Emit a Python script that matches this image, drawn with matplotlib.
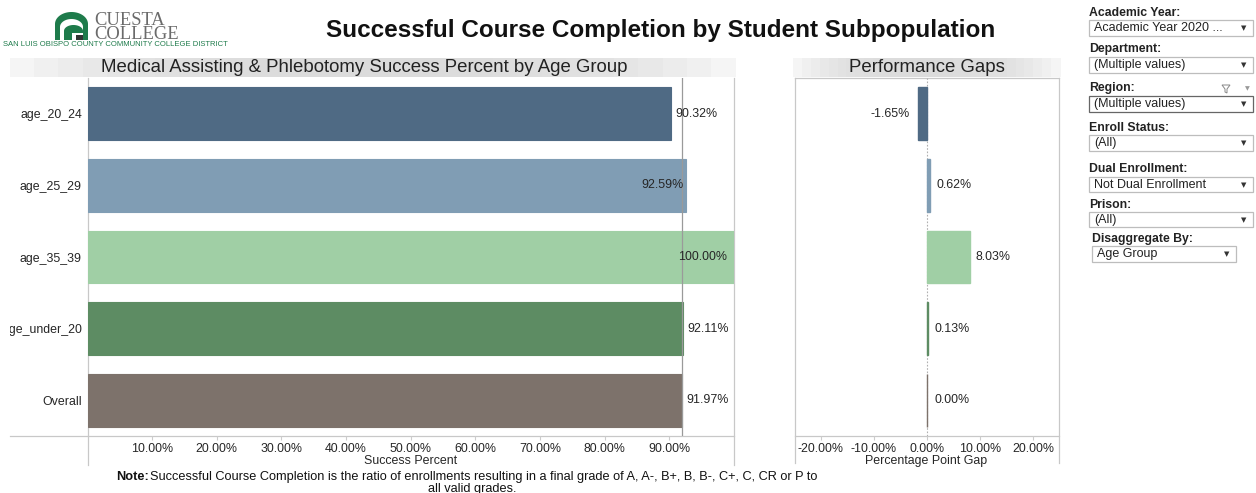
import matplotlib
matplotlib.use("Agg")
import matplotlib.pyplot as plt
from matplotlib.patches import Rectangle, Polygon
from matplotlib.transforms import Bbox, TransformedBbox
import numpy as np

# ---------------- data ----------------
categories = ["age_20_24", "age_25_29", "age_35_39", "age_under_20", "Overall"]
success_pct = [90.32, 92.59, 100.00, 92.11, 91.97]
gap_pct = [-1.65, 0.62, 8.03, 0.13, 0.00]
success_ticks = [10, 20, 30, 40, 50, 60, 70, 80, 90]
gap_ticks = [-20, -10, 0, 10, 20]
overall_ref = 91.97

title = "Successful Course Completion by Student Subpopulation"
left_title = "Medical Assisting & Phlebotomy Success Percent by Age Group"
right_title = "Performance Gaps"
note_text = ("Successful Course Completion is the ratio of enrollments resulting in a final grade of "
             "A, A-, B+, B, B-, C+, C, CR or P to")
note_line2 = "all valid grades."
filter_labels = ["Academic Year:", "Department:", "Region:", "Enroll Status:",
                 "Dual Enrollment:", "Prison:", "Disaggregate By:"]
filter_values = ["Academic Year 2020 ...", "(Multiple values)", "(Multiple values)", "(All)",
                 "Not Dual Enrollment", "(All)", "Age Group"]

# ---------------- style ----------------
colors = ["#4f6a84", "#809db4", "#a0cfa5", "#5d8c63", "#7d726b"]
label_side = ["out", "in", "in", "out", "out"]
FONT = "Liberation Sans"
plt.rcParams["font.family"] = [FONT, "DejaVu Sans"]
TXT = "#262626"
FS = 8.9

W, H = 1256, 493
fig = plt.figure(figsize=(W / 100, H / 100), dpi=100)
fig.patch.set_facecolor("white")


def rect(x0, y0, x1, y1):
    return [x0 / W, 1 - y1 / H, (x1 - x0) / W, (y1 - y0) / H]


# overlay axes in pixel coordinates
ov = fig.add_axes([0, 0, 1, 1], zorder=0)
ov.set_xlim(0, W)
ov.set_ylim(H, 0)
ov.axis("off")

# ---------- left panel ----------
L0, L1, T, B = 87.5, 734, 78, 436
axL = fig.add_axes(rect(L0, T, L1, B), zorder=2)
axL.patch.set_alpha(0)
y = np.arange(len(categories))
axL.barh(y, success_pct, height=0.74, color=colors, edgecolor=colors, linewidth=0.8)
axL.set_xlim(0, 100)
axL.set_ylim(len(categories) - 0.5, -0.5)
axL.set_yticks(y)
axL.set_yticklabels(categories, fontsize=FS, color=TXT)
axL.tick_params(axis="y", length=0, pad=4)
clipbb = TransformedBbox(Bbox([[10 / W, 0], [1, 1]]), fig.transFigure)
for lbl in axL.get_yticklabels():
    lbl.set_clip_on(True)
    lbl.set_clip_box(clipbb)
axL.set_xticks(success_ticks)
axL.set_xticklabels([f"{t:.2f}%" for t in success_ticks], fontsize=FS, color=TXT)
axL.tick_params(axis="x", length=3, color="#cccccc", pad=2)
for s in axL.spines.values():
    s.set_visible(False)
axL.axvline(overall_ref, color="#9a9a9a", lw=0.9, zorder=3)
axL.set_xlabel("Success Percent", fontsize=FS, color=TXT, labelpad=0)
for i, (v, side) in enumerate(zip(success_pct, label_side)):
    if side == "out":
        axL.annotate(f"{v:.2f}%", (v, i), xytext=(4, 0), textcoords="offset pixels",
                     ha="left", va="center", fontsize=FS, color=TXT, zorder=5)
    else:
        axL.annotate(f"{v:.2f}%", (v, i), xytext=(-2 if v < 99 else -7, 0), textcoords="offset pixels",
                     ha="right", va="center", fontsize=FS, color=TXT, zorder=5)

# ---------- right panel ----------
R0, R1 = 795, 1058
axR = fig.add_axes(rect(R0, T, R1, B), zorder=2)
axR.patch.set_alpha(0)
axR.barh(y, gap_pct, height=0.74, color=colors, edgecolor=colors, linewidth=1.0, zorder=3)
axR.set_xlim(-24.9, 24.7)
axR.set_ylim(len(categories) - 0.5, -0.5)
axR.set_yticks([])
axR.set_xticks(gap_ticks)
axR.set_xticklabels([f"{t:.2f}%" for t in gap_ticks], fontsize=FS, color=TXT)
axR.tick_params(axis="x", length=3, color="#cccccc", pad=2)
for s in axR.spines.values():
    s.set_visible(False)
axR.axvline(0, color="#b0b0b0", lw=0.8, ls=(0, (1.5, 1.5)), zorder=2)
axR.set_xlabel("Percentage Point Gap", fontsize=FS, color=TXT, labelpad=0)
for i, v in enumerate(gap_pct):
    if v < 0:
        axR.annotate(f"{v:.2f}%", (v, i), xytext=(-9, 0), textcoords="offset pixels",
                     ha="right", va="center", fontsize=FS, color=TXT)
    else:
        axR.annotate(f"{v:.2f}%", (max(v, 0.3), i), xytext=(6, 0), textcoords="offset pixels",
                     ha="left", va="center", fontsize=FS, color=TXT)

# ---------- frame lines ----------
lc = "#c8c8c8"
ov.plot([88, 88], [78, 465], color=lc, lw=0.9)
ov.plot([734, 734], [78, 465], color=lc, lw=0.9)
ov.plot([10, 734], [436, 436], color=lc, lw=0.9)
ov.plot([795, 795], [78, 463], color=lc, lw=0.9)
ov.plot([1059, 1059], [78, 463], color=lc, lw=0.9)
ov.plot([795, 1059], [78, 78], color=lc, lw=0.9)
ov.plot([795, 1059], [436, 436], color=lc, lw=0.9)

# ---------- headers ----------
for x0, x1 in [(10, 735), (793, 1060)]:
    n = 30
    for k in range(n):
        t = k / (n - 1)
        g = 0.86 + 0.10 * abs(2 * t - 1) ** 3
        ov.add_patch(Rectangle((x0 + (x1 - x0) * k / n, 58), (x1 - x0) / n + 0.6, 19,
                               facecolor=(g, g, g), edgecolor="none"))
ov.text(364, 67.5, left_title, ha="center", va="center", fontsize=13.4, color="#222222")
ov.text(927, 67.5, right_title, ha="center", va="center", fontsize=13.4, color="#222222")

# ---------- title ----------
ov.text(661, 30, title, ha="center", va="center", fontsize=17.5, fontweight="bold", color="#111111")

# ---------- logo ----------
green = "#1e7b4b"
theta = np.linspace(0, np.pi, 40)
arch = [(55, 40), (55, 24)] + [(71.5 - 16.5 * np.cos(a), 24 - 12 * np.sin(a)) for a in theta] + [(88, 24), (88, 40)]
ov.add_patch(Polygon(arch, closed=True, facecolor=green, edgecolor="none"))
inner = [(60, 40), (60, 27)] + [(71.5 - 11.5 * np.cos(a), 27 - 8 * np.sin(a)) for a in theta] + [(83, 27), (83, 40)]
ov.add_patch(Polygon(inner, closed=True, facecolor="white", edgecolor="none"))
inner2 = [(64, 40), (64, 31)] + [(73.5 - 9.5 * np.cos(a), 31 - 6 * np.sin(a)) for a in theta] + [(83, 31), (83, 40)]
ov.add_patch(Polygon(inner2, closed=True, facecolor=green, edgecolor="none"))
ov.add_patch(Rectangle((72, 33), 11, 7, facecolor="white", edgecolor="none"))
ov.add_patch(Rectangle((76, 35), 7, 5, facecolor="#333333", edgecolor="none"))
ov.text(94, 27.5, "CUESTA\nCOLLEGE", ha="left", va="center", fontsize=13.3, color="#6b6b6b",
        linespacing=0.82, family=["Liberation Serif", "DejaVu Serif"])
ov.text(228, 44.5, "SAN LUIS OBISPO COUNTY COMMUNITY COLLEGE DISTRICT", ha="right", va="center",
        fontsize=5.5, color=green)

# ---------- note ----------
ov.text(116, 477, "Note:", ha="left", va="center", fontsize=9.2, fontweight="bold", color="#111111")
ov.text(150, 477, note_text, ha="left", va="center", fontsize=9.2, color="#111111")
ov.text(472, 489, note_line2, ha="center", va="center", fontsize=9.2, color="#111111")

# ---------- filters ----------
label_y = [13, 49, 88, 128, 169, 205, 239]
box_y = [(20, 36), (57, 73), (96, 112), (135, 151), (177, 192), (212, 227), (246, 262)]
for i, (lab, val) in enumerate(zip(filter_labels, filter_values)):
    x0 = 1092 if i == len(filter_labels) - 1 else 1089
    x1 = 1236 if i == len(filter_labels) - 1 else 1253
    ov.text(x0, label_y[i], lab, ha="left", va="center", fontsize=8.8, fontweight="bold", color="#222222")
    b0, b1 = box_y[i]
    ec = "#666666" if i == 2 else "#bdbdbd"
    ov.add_patch(Rectangle((x0, b0), x1 - x0, b1 - b0, facecolor="white", edgecolor=ec, lw=0.9))
    ov.text(x0 + 5, (b0 + b1) / 2, val, ha="left", va="center", fontsize=9.0, color="#222222")
    ov.text(x1 - 9, (b0 + b1) / 2 + 0.5, "\u25BC", ha="center", va="center", fontsize=5,
            color="#333333", family=["DejaVu Sans"])
# region filter icon
ov.add_patch(Polygon([(1222, 85), (1230, 85), (1227, 89), (1227, 93), (1225, 92), (1225, 89)],
                     closed=True, facecolor="none", edgecolor="#888888", lw=0.7))
ov.text(1247, 88.5, "\u25BC", ha="center", va="center", fontsize=4.5, color="#999999", family=["DejaVu Sans"])

fig.savefig("out.png", dpi=100, facecolor="white")
